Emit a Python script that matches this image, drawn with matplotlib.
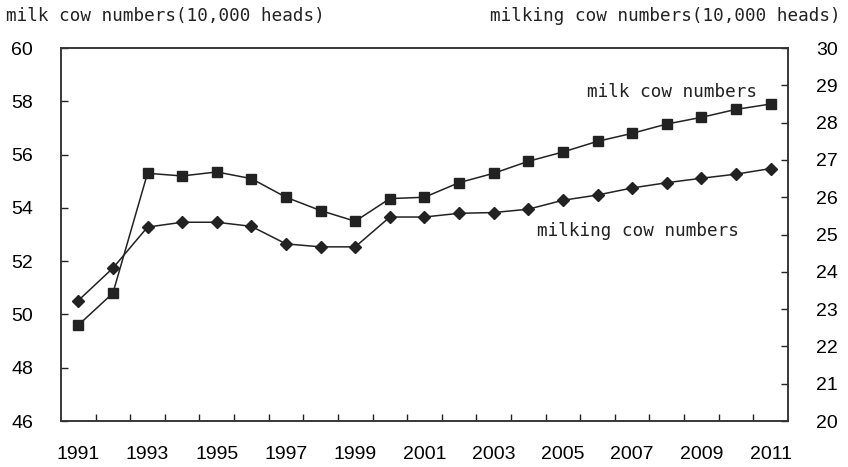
import numpy as np
import matplotlib.pyplot as plt

# data
years = list(range(1991, 2012))
milk_cow = [49.6, 50.8, 55.3, 55.2, 55.35, 55.1, 54.4, 53.9, 53.5, 54.35, 54.4,
            54.95, 55.3, 55.75, 56.1, 56.5, 56.8, 57.15, 57.4, 57.7, 57.9]
milking_cow = [23.23, 24.1, 25.2, 25.33, 25.33, 25.22, 24.75, 24.67, 24.67, 25.47, 25.47,
               25.57, 25.59, 25.68, 25.92, 26.06, 26.25, 26.39, 26.51, 26.62, 26.77]
left_ticks = [46, 48, 50, 52, 54, 56, 58, 60]
right_ticks = [20, 21, 22, 23, 24, 25, 26, 27, 28, 29, 30]

mono = 'DejaVu Sans Mono'
num_font = 'Liberation Sans'
ink = '#222222'

fig = plt.figure(figsize=(8.48, 4.67), dpi=100)
ax = fig.add_axes([0.0719, 0.0985, 0.8573, 0.7985])
ax2 = ax.twinx()

x = np.arange(len(years))
ax.plot(x, milk_cow, color=ink, lw=1.1, marker='s', ms=7.5, mfc=ink, mec=ink)
ax2.plot(x, milking_cow, color=ink, lw=1.1, marker='D', ms=6.5, mfc=ink, mec=ink)

ax.set_xlim(-0.5, len(years) - 0.5)
ax.set_ylim(46, 60)
ax2.set_ylim(20, 30)

# category boundaries as inward minor ticks, labels every other year
ax.set_xticks(np.arange(0.5, len(years) - 1, 1.0), minor=True)
ax.set_xticks(x[::2])
ax.set_xticklabels([str(y) for y in years[::2]], fontsize=14, family=num_font)
ax.tick_params(axis='x', which='major', length=0, pad=18)
ax.tick_params(axis='x', which='minor', direction='in', length=5, width=1, color=ink)

ax.set_yticks(left_ticks)
ax.set_yticklabels([str(v) for v in left_ticks], fontsize=14, family=num_font)
ax.tick_params(axis='y', direction='in', length=5, width=1, pad=20, color=ink)
ax2.set_yticks(right_ticks)
ax2.set_yticklabels([str(v) for v in right_ticks], fontsize=14, family=num_font)
ax2.tick_params(axis='y', direction='in', length=5, width=1, pad=20, color=ink)

for a in (ax, ax2):
    for s in a.spines.values():
        s.set_color('#333333')
        s.set_linewidth(1.1)

# axis titles
fig.text(6 / 848, 1 - 16 / 467, 'milk cow numbers(10,000 heads)', family=mono,
         fontsize=12.7, va='center', ha='left', color=ink)
fig.text(841 / 848, 1 - 16 / 467, 'milking cow numbers(10,000 heads)', family=mono,
         fontsize=12.7, va='center', ha='right', color=ink)

# series labels
ax.text(19.6, 58.35, 'milk cow numbers', family=mono, fontsize=12.7,
        ha='right', va='center', color=ink)
ax.text(19.08, 53.15, 'milking cow numbers', family=mono, fontsize=12.7,
        ha='right', va='center', color=ink)

plt.savefig('out.png', dpi=100)
plt.close()
